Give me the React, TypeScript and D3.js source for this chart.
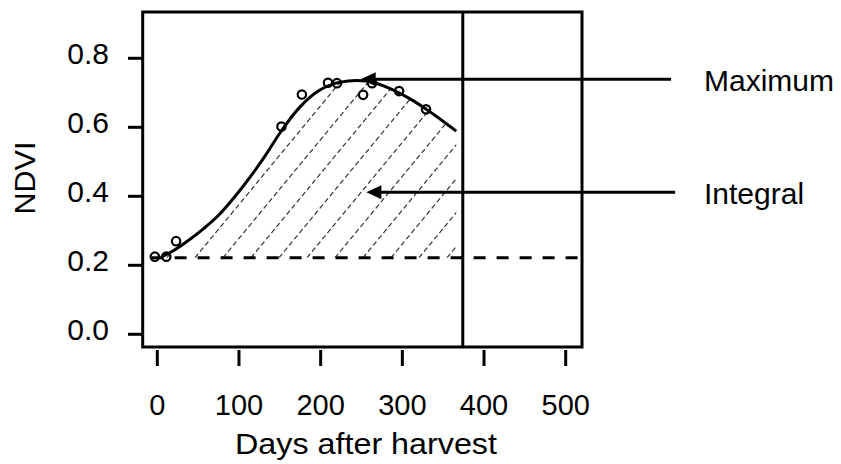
import React from 'react';
import * as d3 from 'd3';

// observed NDVI samples (day after harvest, NDVI)
const obsDays = [-3, 11, 23, 152, 177, 209, 220, 252, 263, 296, 329];
const obsNdvi = [0.225, 0.225, 0.27, 0.602, 0.695, 0.729, 0.728, 0.694, 0.728, 0.705, 0.652];

// fitted seasonal curve
const fitDays = [5, 18, 38, 56, 75, 97, 114, 132, 152, 175, 199, 224, 256, 277, 309, 338, 366];
const fitNdvi = [0.224, 0.24, 0.272, 0.305, 0.345, 0.405, 0.457, 0.517, 0.59, 0.66, 0.708, 0.731, 0.734, 0.72, 0.683, 0.638, 0.589];

const baseNdvi = 0.222;
const baseDays = [-7, 518];
const endDay = 374;

const xTicks = [0, 100, 200, 300, 400, 500];
const yTicks = [0.0, 0.2, 0.4, 0.6, 0.8];

// annotations: label, arrow tip (day, ndvi), arrow tail day
const noteLabels = ['Maximum', 'Integral'];
const noteTipDays = [249, 256];
const noteNdvi = [0.739, 0.412];
const noteTailDays = [629, 634];

const W = 841;
const H = 464;
const frame = { left: 142.7, right: 582, top: 12, bottom: 347 };
const font = '"Liberation Sans", Arial, sans-serif';

export default function App() {
  const x = d3.scaleLinear().domain([0, 500]).range([157.3, 565.7]);
  const y = d3.scaleLinear().domain([0, 0.8]).range([334.3, 58.3]);

  const fitPts: [number, number][] = fitDays.map((d, i) => [x(d), y(fitNdvi[i])]);
  const line = d3.line().curve(d3.curveCatmullRom.alpha(0.5));
  const fitPath = line(fitPts) || '';

  const areaPath =
    fitPath +
    `L${x(fitDays[fitDays.length - 1])},${y(baseNdvi)}L${x(fitDays[0])},${y(baseNdvi)}Z`;

  // hatch lines, parallel, going up to the right
  const slope = 1.21;
  const spacing = 28;
  const hatch: string[] = [];
  const yb = y(baseNdvi);
  for (let x0 = 195 - spacing * 3; x0 < 480; x0 += spacing) {
    const x1 = x0 + 300 / slope;
    hatch.push(`M${x0},${yb}L${x1},${yb - 300}`);
  }

  return (
    <svg width={W} height={H} style={{ position: 'absolute', left: 0, top: 0, background: '#fff' }}>
      <defs>
        <clipPath id="area-clip">
          <path d={areaPath} />
        </clipPath>
      </defs>

      {/* hatched integral */}
      <g clipPath="url(#area-clip)">
        {hatch.map((d, i) => (
          <path key={i} d={d} stroke="#333" strokeWidth={1.2} strokeDasharray="5 3" fill="none" />
        ))}
      </g>

      {/* baseline */}
      <line
        x1={x(baseDays[0])}
        x2={x(baseDays[1])}
        y1={y(baseNdvi)}
        y2={y(baseNdvi)}
        stroke="#000"
        strokeWidth={3}
        strokeDasharray="12 11"
      />

      {/* fitted curve */}
      <path d={fitPath} fill="none" stroke="#000" strokeWidth={3} />

      {/* end-of-season line */}
      <line x1={x(endDay)} x2={x(endDay)} y1={frame.top} y2={frame.bottom} stroke="#000" strokeWidth={3} />

      {/* observations */}
      {obsDays.map((d, i) => (
        <circle key={i} cx={x(d)} cy={y(obsNdvi[i])} r={4.2} fill="none" stroke="#000" strokeWidth={2.2} />
      ))}

      {/* frame */}
      <rect
        x={frame.left}
        y={frame.top}
        width={frame.right - frame.left}
        height={frame.bottom - frame.top}
        fill="none"
        stroke="#000"
        strokeWidth={3}
      />

      {/* annotations */}
      {noteLabels.map((lab, i) => {
        const tx = x(noteTipDays[i]);
        const ty = y(noteNdvi[i]);
        return (
          <g key={lab}>
            <line x1={tx + 10} x2={x(noteTailDays[i])} y1={ty} y2={ty} stroke="#000" strokeWidth={3} />
            <path d={`M${tx},${ty}L${tx + 15},${ty - 7}L${tx + 15},${ty + 7}Z`} fill="#000" />
            <text x={704} y={ty + 12} fontFamily={font} fontSize={30} fill="#000">
              {lab}
            </text>
          </g>
        );
      })}

      {/* x axis */}
      {xTicks.map((t) => (
        <g key={t}>
          <line x1={x(t)} x2={x(t)} y1={350} y2={366} stroke="#000" strokeWidth={3} />
          <text x={x(t)} y={415} textAnchor="middle" fontFamily={font} fontSize={29} fill="#000">
            {t}
          </text>
        </g>
      ))}
      <text x={366} y={454} textAnchor="middle" fontFamily={font} fontSize={29} fill="#000" textLength={262} lengthAdjust="spacingAndGlyphs">
        Days after harvest
      </text>

      {/* y axis */}
      {yTicks.map((t) => (
        <g key={t}>
          <line x1={128} x2={frame.left} y1={y(t)} y2={y(t)} stroke="#000" strokeWidth={3} />
          <text x={109} y={y(t) + 6} textAnchor="end" fontFamily={font} fontSize={30} fill="#000">
            {t.toFixed(1)}
          </text>
        </g>
      ))}
      <text
        transform={`translate(35,178) rotate(-90)`}
        textAnchor="middle"
        fontFamily={font}
        fontSize={30}
        fill="#000"
        textLength={73}
        lengthAdjust="spacingAndGlyphs"
      >
        NDVI
      </text>
    </svg>
  );
}
